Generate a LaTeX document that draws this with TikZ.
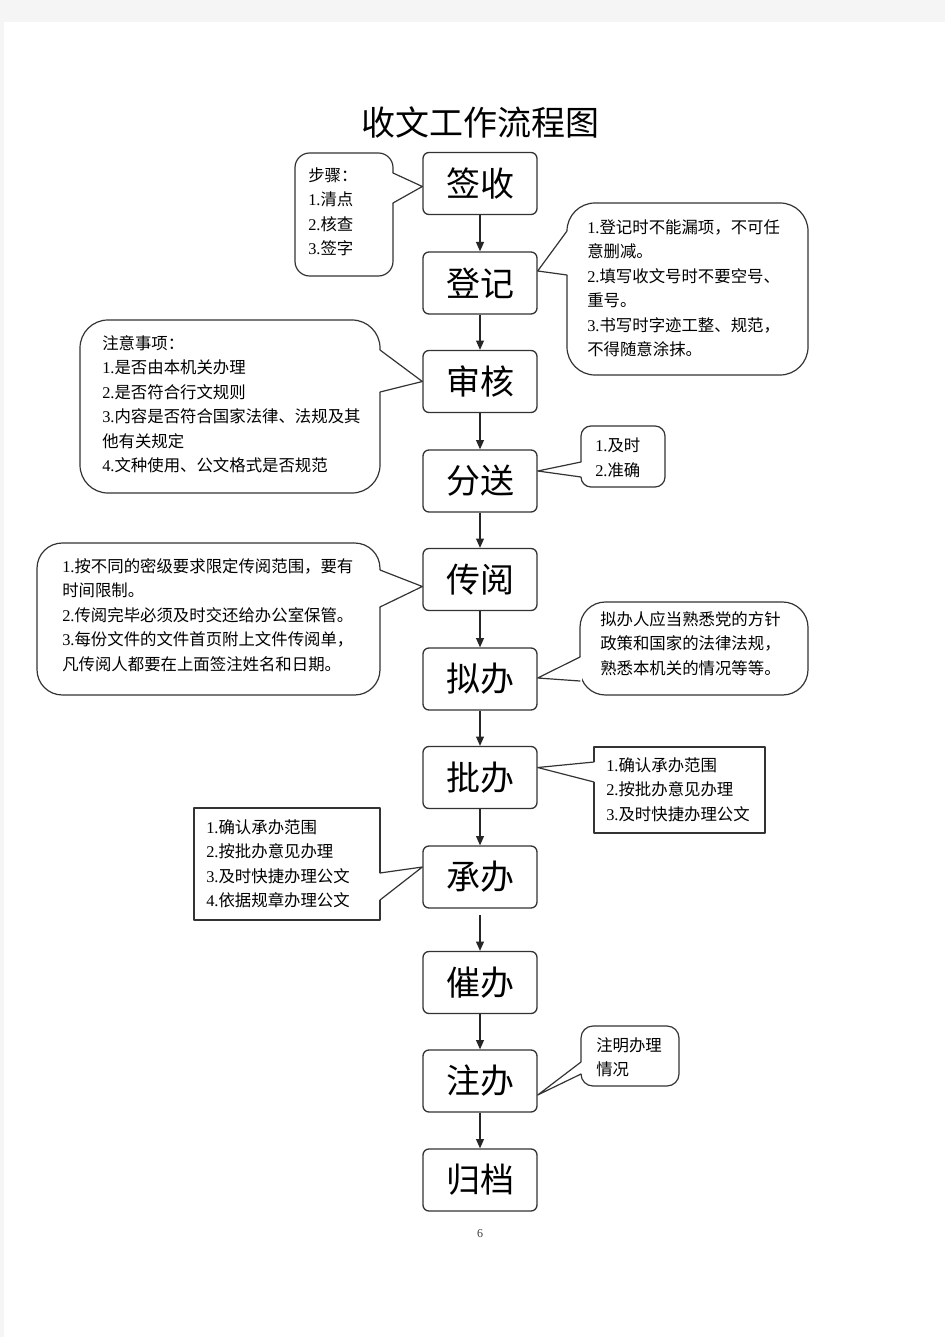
\documentclass[tikz,border=0pt]{standalone}
\usepackage{fontspec}
\setmainfont{Noto Sans CJK SC}
\newfontfamily\cjkfont{Noto Sans CJK SC}
\newfontfamily\digitfont{Liberation Serif}
\newcommand\numd[1]{{\digitfont #1}}
\usetikzlibrary{arrows.meta,calc}
\begin{document}
\begin{tikzpicture}[x=0.75pt,y=-0.75pt,
  mainbox/.style={draw=black!80,line width=1pt,rounded corners=4.5pt,
    minimum width=85.5pt,minimum height=46.5pt,inner sep=0pt,
    font=\cjkfont\fontsize{25.5}{28}\selectfont},
  arr/.style={draw=black!85,line width=0.8pt,-{Triangle[length=7pt,width=6pt]}},
  co/.style={draw=black!80,line width=0.9pt,line join=round,line cap=round},
  ctext/.style={anchor=north west,inner sep=0pt,align=left,
    font=\cjkfont\fontsize{12.3}{18.4}\selectfont},
  erase/.style={fill=white}
]
% page background
\fill[black!4] (0,0) rectangle (945,1337);
\fill[white] (4,22) rectangle (945,1337);
\useasboundingbox (0,0) rectangle (945,1337);

% title
\node[font=\cjkfont\fontsize{25.5}{28}\selectfont] (title) at (480,122) {收文工作流程图};

% main boxes
\node[mainbox] (s1) at (480,183.5) {签收};
\node[mainbox] (s2) at (480,283) {登记};
\node[mainbox] (s3) at (480,381.5) {审核};
\node[mainbox] (s4) at (480,481) {分送};
\node[mainbox] (s5) at (480,579.5) {传阅};
\node[mainbox] (s6) at (480,679) {拟办};
\node[mainbox] (s7) at (480,777.5) {批办};
\node[mainbox] (s8) at (480,877) {承办};
\node[mainbox] (s9) at (480,982.5) {催办};
\node[mainbox] (s10) at (480,1081) {注办};
\node[mainbox] (s11) at (480,1180) {归档};

% arrows
\draw[arr] (s1) -- (s2);
\draw[arr] (s2) -- (s3);
\draw[arr] (s3) -- (s4);
\draw[arr] (s4) -- (s5);
\draw[arr] (s5) -- (s6);
\draw[arr] (s6) -- (s7);
\draw[arr] (s7) -- (s8);
\draw[arr,shorten <=5pt] (s8) -- (s9);
\draw[arr] (s9) -- (s10);
\draw[arr] (s10) -- (s11);

% callout 1 (步骤)
\draw[co,rounded corners=11pt] (295,153) rectangle (393,276);
\fill[erase] (391.5,173) rectangle (394.5,203);
\draw[co] (393,173) -- ($(s1.west)+(0,3)$) -- (393,203);

% callout 2 (登记)
\draw[co,rounded corners=21pt] (567,203) rectangle (808,375);
\fill[erase] (565.5,231) rectangle (568.5,275);
\draw[co] (567,231) -- ($(s2.east)+(0,-12)$) -- (567,275);

% callout 3 (审核)
\draw[co,rounded corners=21pt] (80,320) rectangle (380,493);
\fill[erase] (378.5,350) rectangle (381.5,392);
\draw[co] (380,350) -- (s3.west) -- (380,392);

% callout 4 (分送)
\draw[co,rounded corners=7.5pt] (581,426) rectangle (665,487);
\fill[erase] (579.5,462) rectangle (582.5,477);
\draw[co] (581,462) -- ($(s4.east)+(0,-10)$) -- (581,477);

% callout 5 (传阅)
\draw[co,rounded corners=19pt] (37,543) rectangle (380,695);
\fill[erase] (378.5,570) rectangle (381.5,607);
\draw[co] (380,570) -- ($(s5.west)+(0,7)$) -- (380,607);

% callout 6 (拟办)
\draw[co,rounded corners=19pt] (580,602) rectangle (808,695);
\fill[erase] (578.5,657) rectangle (581.5,681);
\draw[co] (580,657) -- ($(s6.east)+(0,-1)$) -- (580,681);

% callout 7 (批办)
\draw[co] (594,747) rectangle (765,833);
\fill[erase] (592.5,762) rectangle (595.5,782);
\draw[co] (594,762) -- ($(s7.east)+(0,-10)$) -- (594,782);

% callout 8 (承办)
\draw[co] (194,808) rectangle (380,920);
\fill[erase] (378.5,873) rectangle (381.5,900);
\draw[co] (380,873) -- ($(s8.west)+(0,-10)$) -- (380,900);

% callout 9 (注办)
\draw[co,rounded corners=9pt] (581,1026) rectangle (679,1086);
\fill[erase] (579.5,1062) rectangle (582.5,1074);
\draw[co] (581,1062) -- ($(s10.east)+(0,14)$) -- (581,1074);

% callout texts
\node[ctext] (t1) at (308,167) {步骤：\\\numd{1.}清点\\\numd{2.}核查\\\numd{3.}签字};
\node[ctext] (t2) at (587,219) {\numd{1.}登记时不能漏项，不可任\\意删减。\\\numd{2.}填写收文号时不要空号、\\重号。\\\numd{3.}书写时字迹工整、规范，\\不得随意涂抹。};
\node[ctext] (t3) at (102,335) {注意事项：\\\numd{1.}是否由本机关办理\\\numd{2.}是否符合行文规则\\\numd{3.}内容是否符合国家法律、法规及其\\他有关规定\\\numd{4.}文种使用、公文格式是否规范};
\node[ctext] (t4) at (595,438) {\numd{1.}及时\\\numd{2.}准确};
\node[ctext] (t5) at (62,558) {\numd{1.}按不同的密级要求限定传阅范围，要有\\时间限制。\\\numd{2.}传阅完毕必须及时交还给办公室保管。\\\numd{3.}每份文件的文件首页附上文件传阅单，\\凡传阅人都要在上面签注姓名和日期。};
\node[ctext] (t6) at (600,611) {拟办人应当熟悉党的方针\\政策和国家的法律法规，\\熟悉本机关的情况等等。};
\node[ctext] (t7) at (606,757) {\numd{1.}确认承办范围\\\numd{2.}按批办意见办理\\\numd{3.}及时快捷办理公文};
\node[ctext] (t8) at (206,819) {\numd{1.}确认承办范围\\\numd{2.}按批办意见办理\\\numd{3.}及时快捷办理公文\\\numd{4.}依据规章办理公文};
\node[ctext] (t9) at (596,1037) {注明办理\\情况};

% page number
\node[font=\digitfont\fontsize{9}{10}\selectfont,text=black!75] (pg) at (480,1234) {6};
\end{tikzpicture}
\end{document}
